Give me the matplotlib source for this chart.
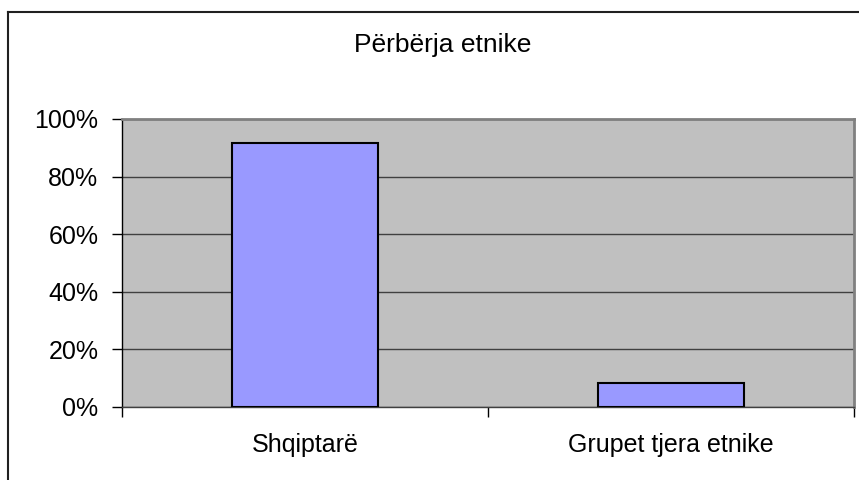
import matplotlib.pyplot as plt
from matplotlib.lines import Line2D
from matplotlib.ticker import FuncFormatter

plt.rcParams['font.family'] = ['Liberation Sans', 'DejaVu Sans']

# data
categories = ['Shqiptarë', 'Grupet tjera etnike']
values = [0.918, 0.082]
title = 'Përbërja etnike'

fig = plt.figure(figsize=(8.59, 4.8), dpi=100)
ax = fig.add_axes([122 / 859, 1 - 407 / 480, 732 / 859, 288 / 480])

ax.set_facecolor('#C0C0C0')
x = list(range(len(categories)))
ax.bar(x, values, width=0.4, color='#9999FF', edgecolor='black', linewidth=1.5, zorder=3)

ax.set_xlim(-0.5, len(categories) - 0.5)
ax.set_ylim(0, 1)
ax.set_yticks([0, 0.2, 0.4, 0.6, 0.8, 1.0])
ax.yaxis.set_major_formatter(FuncFormatter(lambda v, p: f'{v * 100:.0f}%'))
ax.yaxis.grid(True, color='#404040', linewidth=1, zorder=1)
ax.set_axisbelow(True)

# category labels centred, tick marks on the category boundaries
ax.set_xticks(x)
ax.set_xticklabels(categories)
ax.set_xticks([i - 0.5 for i in range(len(categories) + 1)], minor=True)
ax.tick_params(axis='x', which='major', length=0, pad=19, labelsize=18)
ax.tick_params(axis='x', which='minor', length=7, width=1, color='black')
ax.tick_params(axis='y', length=7, width=1, color='black', pad=10, labelsize=18)

for side in ['top', 'right']:
    ax.spines[side].set_color('#808080')
    ax.spines[side].set_linewidth(2)
ax.spines['left'].set_color('black')
ax.spines['left'].set_linewidth(1)
ax.spines['bottom'].set_color('#404040')
ax.spines['bottom'].set_linewidth(1)

fig.text(443 / 859, 1 - 45 / 480, title, ha='center', va='center', fontsize=19)

# chart area border (left and top visible)
fig.add_artist(Line2D([8 / 859, 8 / 859], [0, 1 - 12 / 480], color='#202020', linewidth=1.5, transform=fig.transFigure))
fig.add_artist(Line2D([8 / 859, 1], [1 - 12 / 480, 1 - 12 / 480], color='#202020', linewidth=1.5, transform=fig.transFigure))

fig.savefig('out.png', dpi=100)
